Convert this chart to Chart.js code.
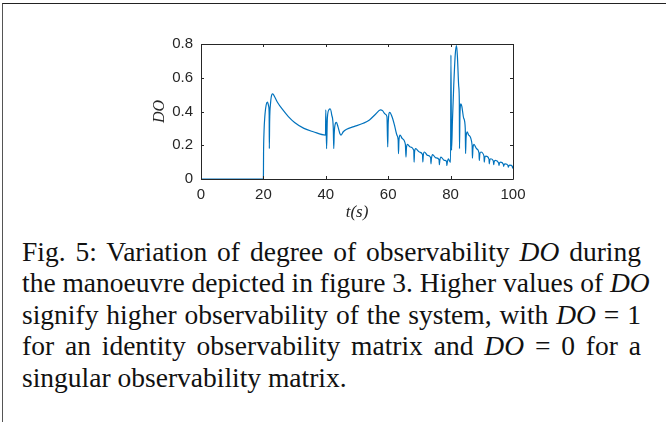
<!DOCTYPE html>
<html>
<head>
<meta charset="utf-8">
<script src="https://cdn.jsdelivr.net/npm/chart.js@4.4.0/dist/chart.umd.min.js"></script>
<style>
  html, body { margin: 0; padding: 0; background: #fff; }
  body { width: 666px; height: 422px; position: relative; overflow: hidden; }
  #frame { position: absolute; left: 2px; top: 3px; width: 700px; height: 500px;
           border-top: 1px solid #222; border-left: 1px solid #555; }
  #doChart { position: absolute; left: 0; top: 0; }
  #caption { position: absolute; left: 22px; top: 236px; width: 619px;
             font-family: "Liberation Serif", "Times New Roman", serif; font-size: 27.5px;
             line-height: 31.4px; color: #111; }
  #caption div { text-align: justify; text-align-last: justify; white-space: nowrap; }
  #caption div.last { text-align-last: left; }
  #caption i { font-style: italic; }
</style>
</head>
<body>
<div id="frame"></div>
<canvas id="doChart" width="666" height="235"></canvas>
<div id="caption">
  <div>Fig. 5: Variation of degree of observability <i>DO</i> during</div>
  <div>the manoeuvre depicted in figure 3. Higher values of <i>DO</i></div>
  <div>signify higher observability of the system, with <i>DO</i> = 1</div>
  <div>for an identity observability matrix and <i>DO</i> = 0 for a</div>
  <div class="last">singular observability matrix.</div>
</div>
<script>
// time (s) and degree of observability
const timeS = [0, 20, 20.05, 20.2, 20.5, 20.9, 21.3, 21.7, 21.85, 21.9, 22.0, 22.3, 22.7, 23.0, 23.5, 24.5,
  26, 28, 30, 33, 36, 39.9, 40.0, 40.25, 40.5, 41.0, 41.4, 41.9, 42.4, 42.55, 42.7, 43.1, 43.4, 43.9,
  44.5, 44.9, 45.6, 46.7, 49, 52, 54, 56, 57.5, 58.2, 59.0, 59.6, 59.85, 60.0, 60.5, 61.2, 62.0, 62.8,
  63.2, 63.3, 63.45, 63.8, 64.5, 65.5, 65.7, 65.85, 66.2, 67, 68.2, 68.3, 68.45, 68.8, 70, 71.0, 71.1,
  71.25, 71.6, 72.6, 73.6, 73.7, 73.85, 74.2, 75.3, 76.3, 76.4, 76.55, 76.9, 78, 78.7, 78.8, 78.95,
  79.3, 79.9, 80.0, 80.1, 80.3, 80.6, 81.0, 81.5, 81.9, 82.2, 82.6, 82.8, 82.85, 83.0, 83.3, 83.6,
  84.2, 84.7, 84.8, 84.95, 85.3, 85.8, 86.9, 87.0, 87.15, 87.5, 88.3, 89.1, 89.2, 89.35, 89.7, 90.7,
  90.8, 90.95, 91.3, 92.3, 92.4, 92.55, 92.9, 93.7, 93.8, 93.95, 94.3, 95.4, 95.5, 95.65, 96.0, 96.9,
  97.0, 97.15, 97.5, 98.4, 98.5, 98.65, 99.0, 99.8, 99.85, 100];
const doValues = [0, 0, 0.15, 0.28, 0.38, 0.44, 0.455, 0.43, 0.38, 0.18, 0.34, 0.45, 0.5, 0.505, 0.49, 0.455,
  0.415, 0.37, 0.335, 0.30, 0.28, 0.26, 0.41, 0.18, 0.36, 0.41, 0.415, 0.38, 0.30, 0.18, 0.27, 0.33, 0.335, 0.31,
  0.27, 0.26, 0.28, 0.295, 0.31, 0.33, 0.35, 0.385, 0.41, 0.405, 0.385, 0.37, 0.19, 0.33, 0.395, 0.37, 0.32, 0.26,
  0.23, 0.15, 0.23, 0.26, 0.24, 0.205, 0.13, 0.185, 0.205, 0.19, 0.17, 0.10, 0.16, 0.18, 0.16, 0.145, 0.10,
  0.14, 0.16, 0.14, 0.128, 0.09, 0.12, 0.145, 0.125, 0.115, 0.085, 0.11, 0.13, 0.11, 0.105, 0.08, 0.10,
  0.12, 0.10, 0.10, 0.735, 0.17, 0.35, 0.55, 0.74, 0.79, 0.72, 0.55, 0.45, 0.18, 0.38, 0.445, 0.43,
  0.36, 0.30, 0.15, 0.24, 0.28, 0.26, 0.2, 0.124, 0.18, 0.205, 0.18, 0.155, 0.11, 0.145, 0.16, 0.135,
  0.10, 0.125, 0.135, 0.118, 0.09, 0.11, 0.12, 0.107, 0.085, 0.1, 0.11, 0.095, 0.08, 0.093, 0.1, 0.088,
  0.075, 0.085, 0.09, 0.08, 0.07, 0.078, 0.082, 0.075, 0.065, 0.075];
const xTicks = [0, 20, 40, 60, 80, 100];
const yTicks = [0, 0.2, 0.4, 0.6, 0.8];

const axisColor = '#262626';

// matlab style box with inward ticks on all four sides
const boxTicks = {
  id: 'boxTicks',
  afterDraw(chart) {
    const { ctx, chartArea: a, scales } = chart;
    ctx.save();
    ctx.strokeStyle = axisColor;
    ctx.lineWidth = 1;
    ctx.beginPath();
    ctx.rect(Math.round(a.left) + 0.5, Math.round(a.top) + 0.5,
             Math.round(a.right - a.left), Math.round(a.bottom - a.top));
    const len = 3;
    xTicks.forEach(v => {
      const x = Math.round(scales.x.getPixelForValue(v)) + 0.5;
      ctx.moveTo(x, a.bottom); ctx.lineTo(x, a.bottom - len);
      ctx.moveTo(x, a.top); ctx.lineTo(x, a.top + len);
    });
    yTicks.forEach(v => {
      const y = Math.round(scales.y.getPixelForValue(v)) + 0.5;
      ctx.moveTo(a.left, y); ctx.lineTo(a.left + len, y);
      ctx.moveTo(a.right, y); ctx.lineTo(a.right - len, y);
    });
    ctx.stroke();
    ctx.restore();
  }
};

const points = timeS.map((t, i) => ({ x: t, y: doValues[i] }));

new Chart(document.getElementById('doChart'), {
  type: 'line',
  data: {
    datasets: [{
      data: points,
      borderColor: '#0072BD',
      borderWidth: 1.2,
      pointRadius: 0,
      cubicInterpolationMode: 'monotone',
      fill: false
    }]
  },
  options: {
    responsive: false,
    animation: false,
    devicePixelRatio: 1,
    layout: { padding: { left: 150, right: 153, top: 44, bottom: 12 } },
    plugins: { legend: { display: false }, tooltip: { enabled: false } },
    scales: {
      x: {
        type: 'linear', min: 0, max: 100,
        grid: { display: false, drawTicks: false },
        border: { display: false },
        afterBuildTicks: s => { s.ticks = xTicks.map(v => ({ value: v })); },
        afterFit: s => { s.height = 44; },
        ticks: { padding: 7, color: axisColor, maxRotation: 0,
                 font: { family: 'Liberation Sans, Arial, sans-serif', size: 15 } },
        title: { display: true, text: 't(s)', color: axisColor, padding: 0,
                 font: { family: 'Liberation Serif, serif', size: 17, style: 'italic' } }
      },
      y: {
        min: 0, max: 0.8,
        grid: { display: false, drawTicks: false },
        border: { display: false },
        afterBuildTicks: s => { s.ticks = yTicks.map(v => ({ value: v })); },
        afterFit: s => { s.width = 51; },
        ticks: { padding: 8, color: axisColor,
                 font: { family: 'Liberation Sans, Arial, sans-serif', size: 15 } },
        title: { display: true, text: 'DO', color: axisColor, padding: 0,
                 font: { family: 'Liberation Serif, serif', size: 16, style: 'italic' } }
      }
    }
  },
  plugins: [boxTicks]
});
</script>
</body>
</html>
